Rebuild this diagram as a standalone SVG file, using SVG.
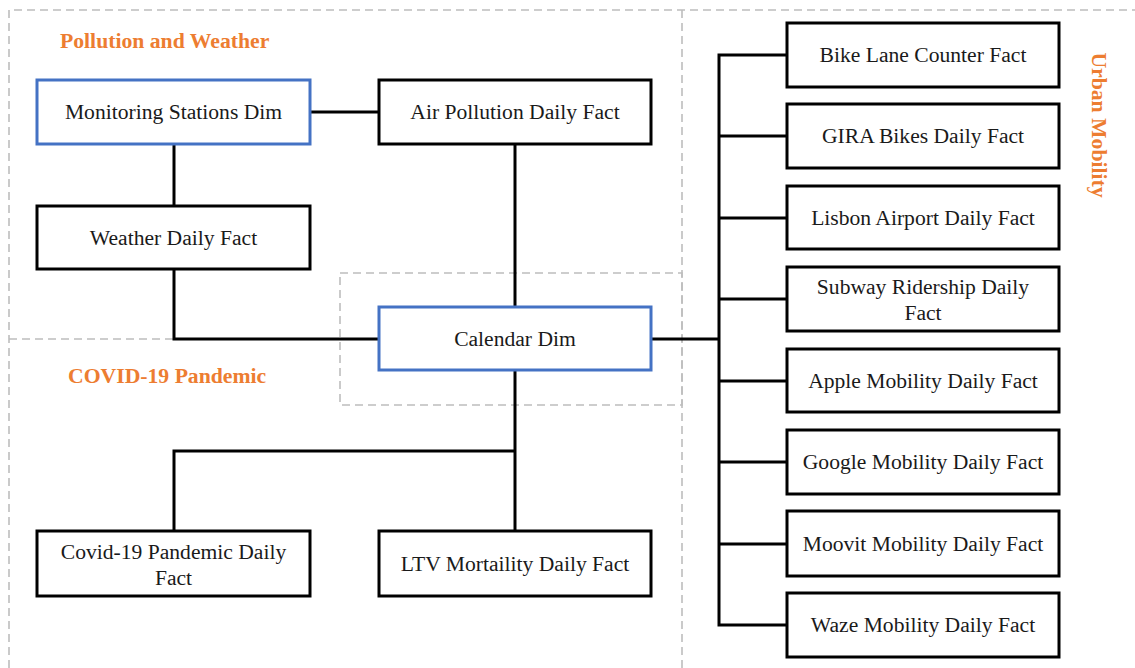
<svg xmlns="http://www.w3.org/2000/svg" width="1135" height="668" viewBox="0 0 1135 668">
<style>
.bg{fill:#fff}
.dash{fill:none;stroke:#BDBDBD;stroke-width:1.6;stroke-dasharray:8 5}
.box{fill:#fff;stroke:#000;stroke-width:3}
.dim{fill:#fff;stroke:#4472C4;stroke-width:3}
.t{font-family:"Liberation Serif","Times New Roman",serif;font-size:21.6px;fill:#1a1a1a;text-anchor:middle;dominant-baseline:central}
.g{font-family:"Liberation Serif","Times New Roman",serif;font-size:21.7px;font-weight:bold;fill:#ED7D31;dominant-baseline:central}
.c{fill:none;stroke:#000;stroke-width:3}
</style>
<rect class="bg" x="0" y="0" width="1135" height="668"/>
<g id="regions">
<path class="dash" d="M9,668 V10 H1135"/>
<path class="dash" d="M682,10 V668"/>
<path class="dash" d="M9,339 H340"/>
<rect class="dash" x="340" y="273" width="342" height="132"/>
</g>
<g id="group-labels">
<text class="g" x="60" y="41">Pollution and Weather</text>
<text class="g" x="68" y="376">COVID-19 Pandemic</text>
<text class="g" x="1099" y="125" text-anchor="middle" transform="rotate(90 1099 125)">Urban Mobility</text>
</g>
<g id="connectors">
<path class="c" d="M310,112 H379"/>
<path class="c" d="M174,144 V206"/>
<path class="c" d="M174,269 V339 H379"/>
<path class="c" d="M515,144 V306"/>
<path class="c" d="M515,370 V531"/>
<path class="c" d="M515,451 H174 V531"/>
<path class="c" d="M651,339 H719"/>
<path class="c" d="M787,55 H719 V625 H787"/>
<path class="c" d="M719,136 H787 M719,218 H787 M719,299 H787 M719,381 H787 M719,462 H787 M719,544 H787"/>
</g>
<g id="monitoring-stations-dim"><rect class="dim" x="37" y="80" width="273" height="64"/><text class="t" x="173.5" y="112">Monitoring Stations Dim</text></g>
<g id="air-pollution-daily-fact"><rect class="box" x="379" y="80" width="272" height="64"/><text class="t" x="515" y="112">Air Pollution Daily Fact</text></g>
<g id="weather-daily-fact"><rect class="box" x="37" y="206" width="273" height="63"/><text class="t" x="173.5" y="238">Weather Daily Fact</text></g>
<g id="calendar-dim"><rect class="dim" x="379" y="307" width="272" height="63"/><text class="t" x="515" y="339">Calendar Dim</text></g>
<g id="covid-19-pandemic-daily-fact"><rect class="box" x="37" y="531" width="273" height="65"/><text class="t" x="173.5" y="552">Covid-19 Pandemic Daily</text><text class="t" x="173.5" y="578">Fact</text></g>
<g id="ltv-mortaility-daily-fact"><rect class="box" x="379" y="531" width="272" height="65"/><text class="t" x="515" y="564">LTV Mortaility Daily Fact</text></g>
<g id="bike-lane-counter-fact"><rect class="box" x="787" y="23" width="272" height="64"/><text class="t" x="923" y="55">Bike Lane Counter Fact</text></g>
<g id="gira-bikes-daily-fact"><rect class="box" x="787" y="104" width="272" height="64"/><text class="t" x="923" y="136">GIRA Bikes Daily Fact</text></g>
<g id="lisbon-airport-daily-fact"><rect class="box" x="787" y="186" width="272" height="63"/><text class="t" x="923" y="218">Lisbon Airport Daily Fact</text></g>
<g id="subway-ridership-daily-fact"><rect class="box" x="787" y="267" width="272" height="64"/><text class="t" x="923" y="287">Subway Ridership Daily</text><text class="t" x="923" y="313">Fact</text></g>
<g id="apple-mobility-daily-fact"><rect class="box" x="787" y="349" width="272" height="63"/><text class="t" x="923" y="381">Apple Mobility Daily Fact</text></g>
<g id="google-mobility-daily-fact"><rect class="box" x="787" y="430" width="272" height="64"/><text class="t" x="923" y="462">Google Mobility Daily Fact</text></g>
<g id="moovit-mobility-daily-fact"><rect class="box" x="787" y="511" width="272" height="65"/><text class="t" x="923" y="544">Moovit Mobility Daily Fact</text></g>
<g id="waze-mobility-daily-fact"><rect class="box" x="787" y="593" width="272" height="64"/><text class="t" x="923" y="625">Waze Mobility Daily Fact</text></g>
</svg>
